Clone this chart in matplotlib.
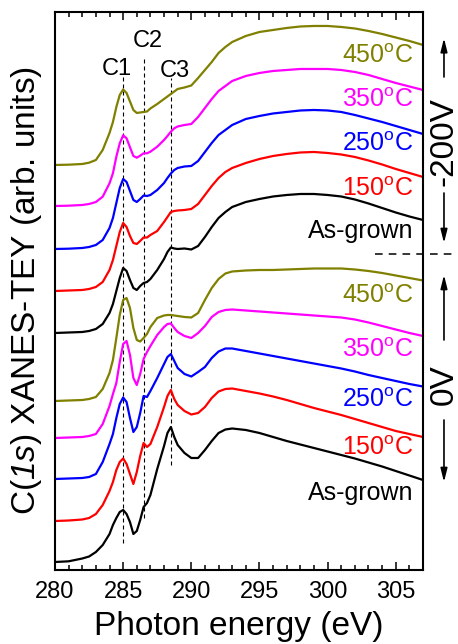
import matplotlib
matplotlib.use('Agg')
import matplotlib.pyplot as plt
from matplotlib.ticker import MultipleLocator
from matplotlib.lines import Line2D

plt.rcParams['font.family'] = 'Liberation Sans'
plt.rcParams['mathtext.fontset'] = 'custom'
plt.rcParams['mathtext.rm'] = 'Liberation Sans'
plt.rcParams['mathtext.sf'] = 'Liberation Sans:italic'

# photon energy grid (eV)
energy = [280, 281, 282, 282.5, 283, 283.5, 284, 284.25, 284.5, 284.75,
          285, 285.25, 285.5, 285.75, 286, 286.25, 286.5, 286.75, 287, 287.5,
          288, 288.25, 288.5, 288.75, 289, 289.5, 290, 290.5, 291, 291.5,
          292, 292.5, 293, 294, 295, 296, 297, 298, 299, 300,
          301, 302, 303, 304, 305, 306, 307]

# -200V series (intensity above pre-edge, arb. units)
m200_asgrown = [0, .005, .01, .02, .04, .09, .20, .29, .42, .55,
                .65, .62, .53, .45, .43, .47, .50, .51, .54, .63,
                .74, .81, .855, .845, .84, .845, .835, .87, .96, 1.06,
                1.15, 1.21, 1.26, 1.31, 1.34, 1.365, 1.38, 1.39, 1.39, 1.38,
                1.365, 1.335, 1.295, 1.25, 1.205, 1.165, 1.13]
m200_150 = [0, .005, .01, .02, .04, .09, .21, .31, .45, .59,
            .68, .64, .55, .48, .47, .50, .535, .535, .56, .60,
            .69, .74, .79, .80, .805, .81, .82, .87, .96, 1.05,
            1.13, 1.19, 1.23, 1.28, 1.32, 1.35, 1.37, 1.385, 1.39, 1.38,
            1.365, 1.34, 1.305, 1.265, 1.22, 1.18, 1.14]
m200_250 = [0, .003, .01, .02, .04, .09, .21, .31, .46, .61,
            .70, .67, .58, .49, .47, .50, .535, .53, .54, .59,
            .66, .71, .755, .79, .81, .825, .83, .88, .97, 1.06,
            1.14, 1.19, 1.24, 1.30, 1.33, 1.355, 1.37, 1.385, 1.39, 1.385,
            1.37, 1.34, 1.305, 1.27, 1.23, 1.19, 1.15]
m200_350 = [0, .003, .01, .02, .04, .093, .227, .327, .493, .627,
            .707, .677, .587, .50, .483, .503, .527, .527, .543, .593,
            .66, .70, .743, .777, .795, .81, .82, .89, .98, 1.07,
            1.15, 1.20, 1.25, 1.30, 1.33, 1.35, 1.36, 1.37, 1.37, 1.37,
            1.36, 1.34, 1.31, 1.27, 1.23, 1.195, 1.16]
m200_450 = [0, .003, .01, .023, .05, .15, .32, .43, .58, .70,
            .755, .72, .635, .55, .52, .525, .53, .535, .565, .61,
            .66, .685, .71, .735, .76, .775, .795, .87, .95, 1.03,
            1.12, 1.18, 1.23, 1.29, 1.33, 1.35, 1.37, 1.385, 1.39, 1.39,
            1.38, 1.365, 1.34, 1.31, 1.275, 1.24, 1.20]

# 0V series
v0_asgrown = [0, .007, .035, .055, .10, .17, .28, .37, .44, .50,
              .52, .48, .40, .28, .31, .42, .55, .59, .67, .93,
              1.16, 1.29, 1.35, 1.25, 1.17, 1.09, 1.04, 1.04, 1.12, 1.21,
              1.29, 1.325, 1.335, 1.32, 1.29, 1.25, 1.21, 1.175, 1.14, 1.105,
              1.07, 1.035, .995, .955, .91, .865, .82]
v0_150 = [0, .005, .015, .03, .07, .16, .30, .39, .51, .59,
          .625, .57, .47, .37, .49, .65, .78, .74, .77, .94,
          1.14, 1.25, 1.31, 1.22, 1.16, 1.10, 1.065, 1.08, 1.14, 1.23,
          1.295, 1.32, 1.325, 1.30, 1.275, 1.245, 1.21, 1.17, 1.13, 1.095,
          1.06, 1.02, .98, .94, .90, .87, .84]
v0_250 = [0, .005, .01, .02, .05, .17, .35, .45, .61, .75,
          .815, .77, .61, .47, .52, .66, .83, .82, .88, 1.01,
          1.15, 1.22, 1.25, 1.18, 1.11, 1.05, 1.025, 1.07, 1.12, 1.21,
          1.275, 1.305, 1.305, 1.28, 1.255, 1.23, 1.205, 1.18, 1.155, 1.13,
          1.105, 1.075, 1.04, 1.01, .98, .95, .925]
v0_350 = [0, .005, .01, .02, .04, .14, .32, .44, .55, .76,
          .94, .97, .83, .60, .53, .64, .79, .86, .92, 1.03,
          1.11, 1.14, 1.145, 1.10, 1.06, 1.02, 1.00, 1.05, 1.12, 1.21,
          1.26, 1.28, 1.285, 1.275, 1.265, 1.255, 1.245, 1.235, 1.225, 1.215,
          1.205, 1.185, 1.155, 1.12, 1.085, 1.05, 1.02]
v0_450 = [0, .005, .01, .02, .04, .12, .28, .41, .63, .86,
          1.01, 1.03, .93, .73, .61, .595, .63, .67, .74, .83,
          .855, .86, .86, .855, .85, .84, .835, .88, 1.01, 1.13,
          1.22, 1.275, 1.295, 1.305, 1.31, 1.31, 1.315, 1.32, 1.325, 1.325,
          1.325, 1.315, 1.30, 1.28, 1.255, 1.23, 1.205]

labels = ['As-grown', '150$^{\\mathrm{o}}$C', '250$^{\\mathrm{o}}$C',
          '350$^{\\mathrm{o}}$C', '450$^{\\mathrm{o}}$C']
colors = ['black', 'red', 'blue', 'magenta', '#808000']
offsets_m200 = [2.37, 2.79, 3.21, 3.64, 4.05]
offsets_v0 = [0.08, 0.49, 0.91, 1.32, 1.69]

peak_names = ['C1', 'C2', 'C3']
peak_pos = [285.0, 286.55, 288.5]

fig = plt.figure(figsize=(4.58, 6.44), dpi=100)
ax = fig.add_axes([0.1201, 0.1149, 0.8035, 0.8665])

series_m200 = [m200_asgrown, m200_150, m200_250, m200_350, m200_450]
series_v0 = [v0_asgrown, v0_150, v0_250, v0_350, v0_450]
lab_y_m200 = [3.323, 3.74, 4.193, 4.633, 5.067]
lab_y_v0 = [0.70, 1.15, 1.633, 2.133, 2.667]

for group, offs, laby in [(series_m200, offsets_m200, lab_y_m200),
                          (series_v0, offsets_v0, lab_y_v0)]:
    for s, off, c, lab, ly in zip(group, offs, colors, labels, laby):
        ax.plot(energy, [off + v for v in s], color=c, lw=1.6)
        ax.text(306.3, ly, lab, color=c, fontsize=18, ha='right', va='baseline')

# peak markers
line_top = [4.93, 5.13, 4.92]
line_bot = [0.27, 0.52, 1.05]
name_x = [284.56, 286.84, 288.82]
name_y = [4.95, 5.233, 4.927]
for p, t, b, n, nx, ny in zip(peak_pos, line_top, line_bot, peak_names, name_x, name_y):
    ax.plot([p, p], [b, t], color='black', lw=0.8, ls=(0, (3.6, 2.7)), zorder=1)
    ax.text(nx, ny, n, fontsize=17, ha='center', va='baseline')

ax.set_xlim(280, 307)
ax.set_ylim(0, 5.58)
ax.set_xticks(range(280, 306, 5))
ax.xaxis.set_minor_locator(MultipleLocator(1))
ax.set_yticks([])
ax.tick_params(axis='x', which='both', direction='in', top=True, labelsize=17, pad=8)
ax.tick_params(axis='x', which='major', length=6, width=1.1)
ax.tick_params(axis='x', which='minor', length=3.5, width=1.1)
for sp in ax.spines.values():
    sp.set_linewidth(1.5)

ax.set_xlabel('Photon energy (eV)', fontsize=24, labelpad=6)
ax.set_ylabel(r'C($\mathsf{1s}$) XANES-TEY (arb. units)', fontsize=24)
ax.yaxis.set_label_coords(-0.03, 0.5)

# bias annotations on the right
xa = 1.057
ax.text(xa, 0.767, '-200V', rotation=90, fontsize=24, ha='center', va='center',
        transform=ax.transAxes, clip_on=False)
ax.text(xa, 0.3315, '0V', rotation=90, fontsize=24, ha='center', va='center',
        transform=ax.transAxes, clip_on=False)
arrow_style = dict(arrowstyle='-|>,head_length=0.8,head_width=0.2', color='black',
                   lw=1.2, mutation_scale=10, shrinkA=0, shrinkB=0)
for tip, tail in [(0.953, 0.8835), (0.586, 0.6756), (0.5287, 0.4122), (0.1577, 0.2688)]:
    ax.annotate('', xy=(xa, tip), xytext=(xa, tail), xycoords='axes fraction',
                arrowprops=arrow_style, annotation_clip=False)
ax.add_line(Line2D([0.8696, 1.0924], [0.5663, 0.5663], transform=ax.transAxes,
                   clip_on=False, ls=(0, (5, 4)), lw=1.1, color='black'))

fig.savefig('out.png', dpi=100)
